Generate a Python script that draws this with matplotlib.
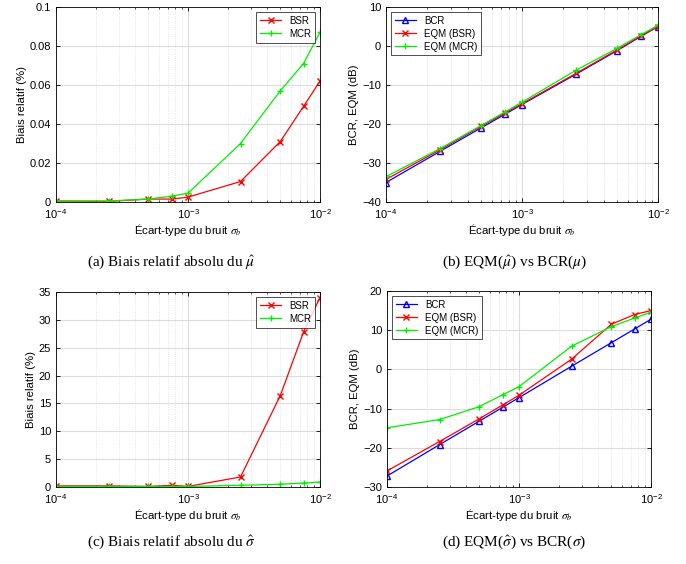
import numpy as np
import matplotlib
matplotlib.use("Agg")
import matplotlib.pyplot as plt

plt.rcParams['font.family'] = ['Liberation Sans', 'DejaVu Sans']
plt.rcParams['mathtext.fontset'] = 'stix'

# noise standard deviations
sigma_b = [1e-4, 2.5e-4, 5e-4, 7.5e-4, 1e-3, 2.5e-3, 5e-3, 7.5e-3, 1e-2]

# (a) relative bias of mu
bias_mu_bsr = [0.0005, 0.0003, 0.0015, 0.0015, 0.0025, 0.0105, 0.031, 0.049, 0.062]
bias_mu_mcr = [0.0005, 0.0005, 0.0015, 0.003, 0.0045, 0.030, 0.057, 0.071, 0.087]

# (b) EQM / BCR of mu (dB)
bcr_mu = [-35, -27, -21, -17.5, -15, -7.2, -1.2, 2.5, 5]
eqm_mu_bsr = [-34.2, -26.6, -20.6, -17.2, -14.8, -7.0, -1.0, 2.6, 5]
eqm_mu_mcr = [-33.5, -26.3, -20.4, -16.9, -14.4, -6.2, -0.6, 2.9, 5.3]

# (c) relative bias of sigma
bias_sig_bsr = [0.2, 0.2, 0.1, 0.3, 0.1, 1.8, 16.4, 27.8, 34]
bias_sig_mcr = [0.1, 0.1, 0.1, 0.1, 0.1, 0.3, 0.5, 0.7, 0.9]

# (d) EQM / BCR of sigma (dB)
bcr_sig = [-27.2, -19.2, -13.2, -9.7, -7.2, 0.8, 6.8, 10.3, 12.8]
eqm_sig_bsr = [-25.9, -18.4, -12.6, -9.1, -6.6, 2.6, 11.5, 14, 15]
eqm_sig_mcr = [-14.9, -12.8, -9.5, -6.5, -4.4, 5.9, 10.9, 13.1, 14.6]

captions = [r"(a) Biais relatif absolu du $\hat{\mu}$",
            r"(b) EQM($\hat{\mu}$) vs BCR($\mu$)",
            r"(c) Biais relatif absolu du $\hat{\sigma}$",
            r"(d) EQM($\hat{\sigma}$) vs BCR($\sigma$)"]

W, H = 686, 564
fig = plt.figure(figsize=(W / 100, H / 100), dpi=100)


def mkax(l, t, r, b):
    return fig.add_axes([l / W, 1 - b / H, (r - l) / W, (b - t) / H])


def style(ax, ylabel):
    ax.set_xscale('log')
    ax.set_xlim(1e-4, 1e-2)
    ax.grid(True, which='major', color='#dcdcdc', lw=0.8)
    ax.grid(True, which='minor', axis='x', color='#dcdcdc', lw=0.6, ls=':')
    ax.set_axisbelow(True)
    ax.tick_params(labelsize=8, direction='in', length=3, width=0.6)
    ax.tick_params(which='minor', direction='in', length=1.5, width=0.5)
    ax.tick_params(top=True, right=True, which='both')
    for s in ax.spines.values():
        s.set_linewidth(0.6)
    ax.set_xlabel(r"Écart-type du bruit $\sigma_b$", fontsize=8.2, labelpad=1)
    ax.set_ylabel(ylabel, fontsize=8.2, labelpad=2)


red, green, blue = '#ff0000', '#00ee00', '#0000ff'

# (a)
ax = mkax(56, 7, 320, 202)
ax.plot(sigma_b, bias_mu_bsr, color=red, marker='x', ms=4, lw=0.9, label='BSR')
ax.plot(sigma_b, bias_mu_mcr, color=green, marker='+', ms=5, lw=0.9, label='MCR')
ax.set_ylim(0, 0.1)
ax.set_yticks([0, 0.02, 0.04, 0.06, 0.08, 0.1])
ax.set_yticklabels(['0', '0.02', '0.04', '0.06', '0.08', '0.1'])
style(ax, 'Biais relatif (%)')
leg = ax.legend(loc='upper right', fontsize=7, fancybox=False, edgecolor='k',
                handlelength=2.2, borderpad=0.4, labelspacing=0.3)
leg.get_frame().set_linewidth(0.6)

# (b)
ax = mkax(386, 7, 658, 202)
ax.plot(sigma_b, bcr_mu, color=blue, marker='^', mfc='none', ms=4, lw=0.9, label='BCR')
ax.plot(sigma_b, eqm_mu_bsr, color=red, marker='x', ms=4, lw=0.9, label='EQM (BSR)')
ax.plot(sigma_b, eqm_mu_mcr, color=green, marker='+', ms=5, lw=0.9, label='EQM (MCR)')
ax.set_ylim(-40, 10)
ax.set_yticks(np.arange(-40, 11, 10))
style(ax, 'BCR, EQM (dB)')
leg = ax.legend(loc='upper left', fontsize=7, fancybox=False, edgecolor='k',
                handlelength=2.2, borderpad=0.4, labelspacing=0.3)
leg.get_frame().set_linewidth(0.6)

# (c)
ax = mkax(56, 292, 320, 487)
ax.plot(sigma_b, bias_sig_bsr, color=red, marker='x', ms=4, lw=0.9, label='BSR')
ax.plot(sigma_b, bias_sig_mcr, color=green, marker='+', ms=5, lw=0.9, label='MCR')
ax.set_ylim(0, 35)
ax.set_yticks(np.arange(0, 36, 5))
style(ax, 'Biais relatif (%)')
leg = ax.legend(loc='upper right', fontsize=7, fancybox=False, edgecolor='k',
                handlelength=2.2, borderpad=0.4, labelspacing=0.3)
leg.get_frame().set_linewidth(0.6)

# (d)
ax = mkax(387, 291, 651, 487)
ax.plot(sigma_b, bcr_sig, color=blue, marker='^', mfc='none', ms=4, lw=0.9, label='BCR')
ax.plot(sigma_b, eqm_sig_bsr, color=red, marker='x', ms=4, lw=0.9, label='EQM (BSR)')
ax.plot(sigma_b, eqm_sig_mcr, color=green, marker='+', ms=5, lw=0.9, label='EQM (MCR)')
ax.set_ylim(-30, 20)
ax.set_yticks(np.arange(-30, 21, 10))
style(ax, 'BCR, EQM (dB)')
leg = ax.legend(loc='upper left', fontsize=7, fancybox=False, edgecolor='k',
                handlelength=2.2, borderpad=0.4, labelspacing=0.3)
leg.get_frame().set_linewidth(0.6)

# captions
cap_pos = [(171, 262), (514, 262), (171, 542), (514, 542)]
for (cx, cy), txt in zip(cap_pos, captions):
    fig.text(cx / W, 1 - cy / H, txt, ha='center', va='center', fontsize=11,
             family=['Liberation Serif', 'DejaVu Serif'])

fig.savefig('out.png', dpi=100)
